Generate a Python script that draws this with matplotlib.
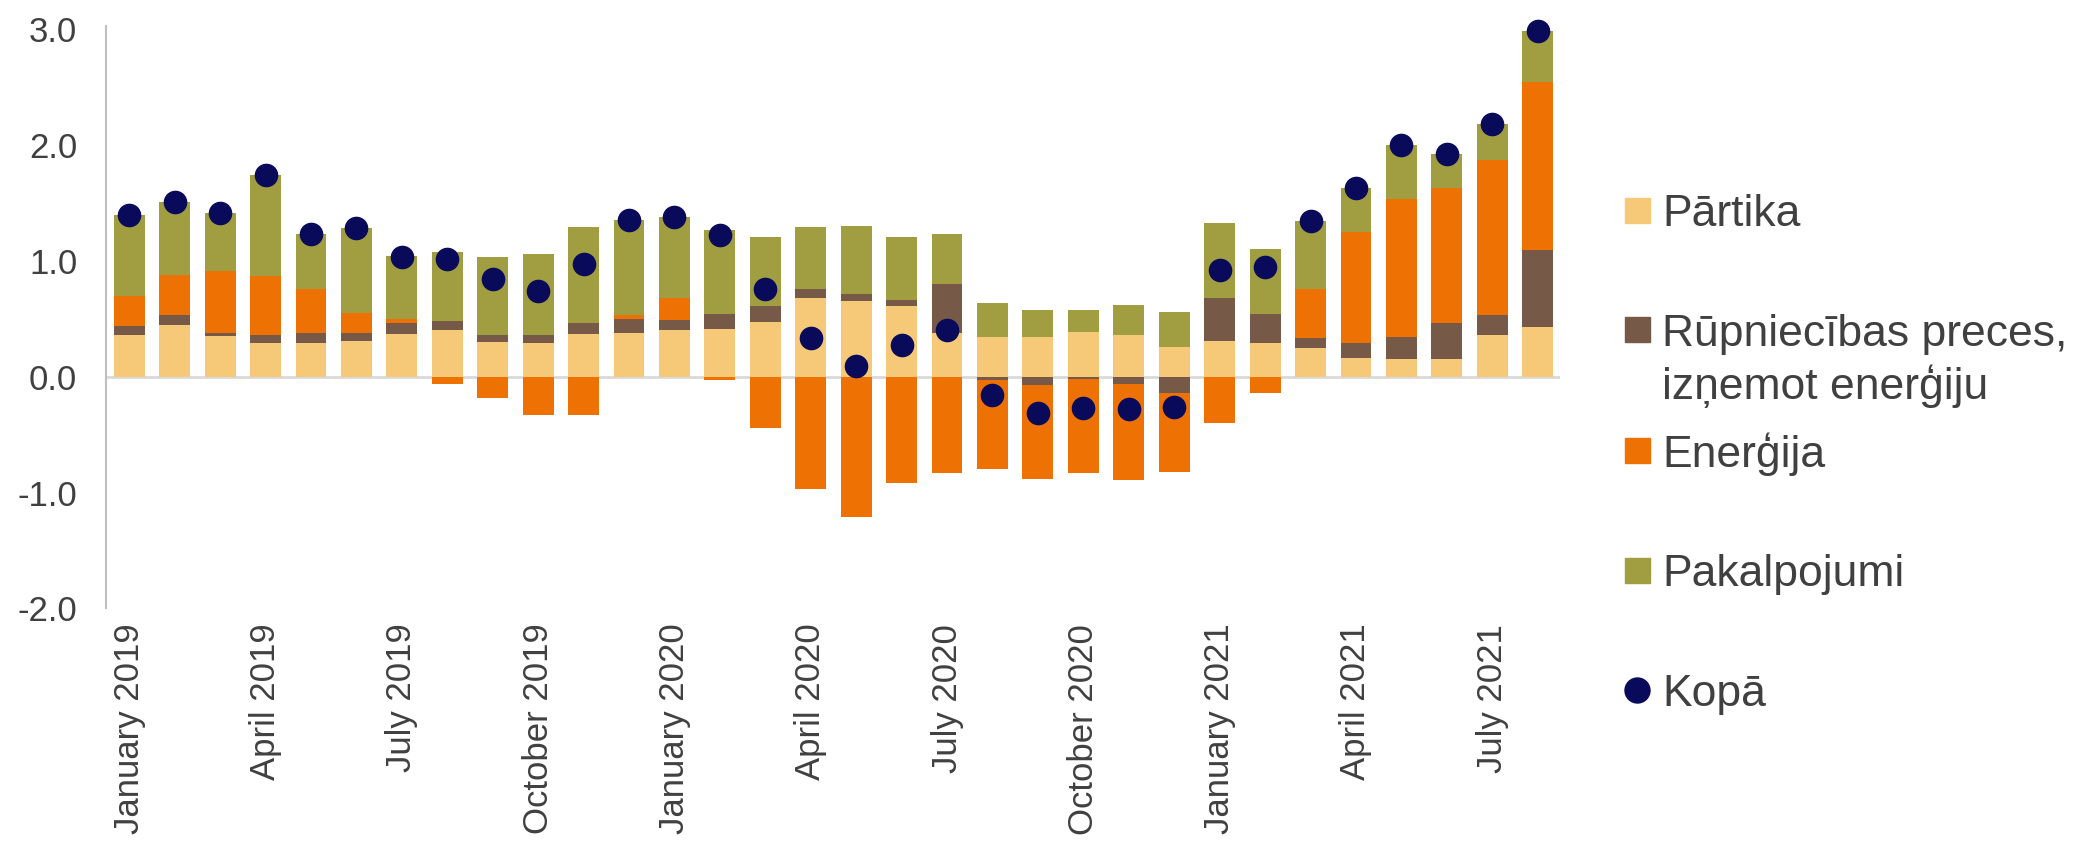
import numpy as np
import matplotlib
matplotlib.use("Agg")
import matplotlib.pyplot as plt
from matplotlib.patches import Rectangle
from matplotlib.lines import Line2D

plt.rcParams["font.family"] = ["Liberation Sans", "DejaVu Sans"]
plt.rcParams["axes.unicode_minus"] = False

# monthly contributions, January 2019 .. August 2021
partika = [0.36, 0.45, 0.35, 0.29, 0.29, 0.31, 0.37, 0.40, 0.30, 0.29, 0.37, 0.38,
           0.40, 0.41, 0.47, 0.68, 0.65, 0.61, 0.38, 0.34, 0.34, 0.39, 0.36, 0.26,
           0.31, 0.29, 0.25, 0.16, 0.15, 0.15, 0.36, 0.43]
rupniecibas = [0.075, 0.08, 0.03, 0.07, 0.09, 0.07, 0.09, 0.08, 0.06, 0.07, 0.09, 0.12,
               0.09, 0.13, 0.14, 0.08, 0.06, 0.05, 0.42, -0.03, -0.07, -0.02, -0.06, -0.14,
               0.37, 0.25, 0.08, 0.13, 0.19, 0.31, 0.17, 0.66]
energija = [0.265, 0.35, 0.53, 0.51, 0.38, 0.17, 0.04, -0.06, -0.18, -0.33, -0.33, 0.03,
            0.19, -0.03, -0.44, -0.97, -1.21, -0.92, -0.83, -0.77, -0.81, -0.81, -0.83, -0.68,
            -0.40, -0.14, 0.43, 0.96, 1.19, 1.17, 1.34, 1.45]
pakalpojumi = [0.70, 0.63, 0.50, 0.87, 0.47, 0.73, 0.54, 0.60, 0.67, 0.70, 0.83, 0.82,
               0.70, 0.73, 0.60, 0.53, 0.59, 0.55, 0.43, 0.30, 0.24, 0.19, 0.26, 0.30,
               0.65, 0.56, 0.58, 0.38, 0.47, 0.29, 0.31, 0.44]
kopa = [1.40, 1.51, 1.41, 1.74, 1.23, 1.28, 1.03, 1.02, 0.84, 0.74, 0.97, 1.35,
        1.38, 1.22, 0.76, 0.33, 0.09, 0.27, 0.40, -0.16, -0.31, -0.27, -0.28, -0.26,
        0.92, 0.95, 1.34, 1.63, 2.00, 1.92, 2.18, 2.98]

tick_labels = ["January 2019", "April 2019", "July 2019", "October 2019",
               "January 2020", "April 2020", "July 2020", "October 2020",
               "January 2021", "April 2021", "July 2021"]

series = [
    ("Pārtika", partika, "#F5C978"),
    ("Rūpniecības preces,\nizņemot enerģiju", rupniecibas, "#765A47"),
    ("Enerģija", energija, "#EE7203"),
    ("Pakalpojumi", pakalpojumi, "#A09E40"),
]
dot_color = "#0A0A5A"
text_color = "#404040"

fig = plt.figure(figsize=(20.8, 8.41), dpi=100)
ax = fig.add_axes([0.0512, 0.2765, 0.699, 0.693])

x = np.arange(len(kopa))
pos_bottom = np.zeros(len(x))
neg_bottom = np.zeros(len(x))
for name, vals, color in series:
    v = np.array(vals)
    bottom = np.where(v >= 0, pos_bottom, neg_bottom)
    ax.bar(x, v, width=0.68, bottom=bottom, color=color, linewidth=0, zorder=2)
    pos_bottom += np.where(v >= 0, v, 0)
    neg_bottom += np.where(v < 0, v, 0)

ax.plot(x, kopa, "o", color=dot_color, markersize=16, zorder=3, clip_on=False)

ax.axhline(0, color="#D9D9D9", linewidth=2, zorder=1)
ax.set_xlim(-0.5, len(x) - 0.5)
ax.set_ylim(-2, 3.03)
ax.set_yticks(np.arange(-2, 3.1, 1))
ax.set_yticklabels([f"{t:.1f}" for t in np.arange(-2, 3.1, 1)])
ax.set_xticks(x[::3])
ax.set_xticklabels(tick_labels, rotation=90, va="top", ha="center")

for s in ["top", "right", "bottom"]:
    ax.spines[s].set_visible(False)
ax.spines["left"].set_color("#BFBFBF")
ax.spines["left"].set_linewidth(1.5)
ax.tick_params(axis="y", length=0, pad=21, labelsize=25, labelcolor=text_color)
ax.tick_params(axis="x", length=0, pad=11, labelsize=25, labelcolor=text_color)

# legend drawn Excel-style: marker aligned with the first line of each label
W, H = 2080, 841
marker_x = 1637
text_x = 1662
for i, (name, vals, color) in enumerate(series + [("Kopā", kopa, dot_color)]):
    y = 210 + 120 * i
    if name == "Kopā":
        fig.add_artist(Line2D([marker_x / W], [1 - y / H], marker="o", markersize=18,
                              color=dot_color, linestyle="none", transform=fig.transFigure))
    else:
        fig.add_artist(Rectangle(((marker_x - 12.5) / W, 1 - (y + 12.5) / H), 25 / W, 25 / H,
                                 color=color, transform=fig.transFigure))
    for k, line in enumerate(name.split("\n")):
        fig.text(text_x / W, 1 - (y + 52 * k) / H, line, fontsize=32, color=text_color,
                 va="center_baseline", ha="left")

fig.savefig("out.png", dpi=100)
